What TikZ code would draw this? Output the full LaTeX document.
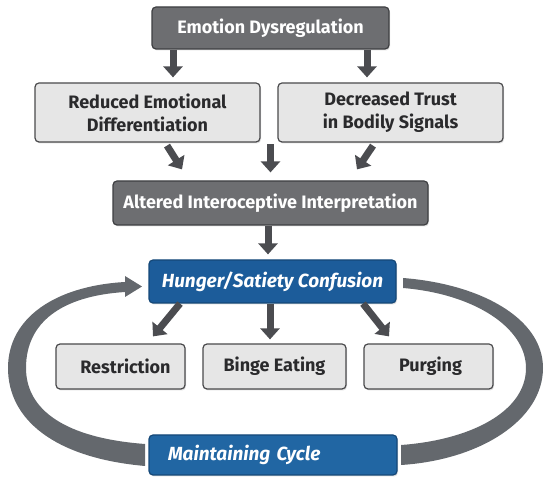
\documentclass[tikz,border=0pt]{standalone}
\usepackage{fontspec}
\setmainfont{Fira Sans}
\usetikzlibrary{arrows.meta,shadows}
\definecolor{boxdark}{HTML}{6D6E71}
\definecolor{boxdarkline}{HTML}{3E3F42}
\definecolor{boxlight}{HTML}{E6E6E6}
\definecolor{boxlightline}{HTML}{4A4A4C}
\definecolor{blueA}{HTML}{1C5C9A}
\definecolor{blueB}{HTML}{2166A3}
\definecolor{blueline}{HTML}{154878}
\definecolor{arrowcol}{HTML}{4B4C50}
\definecolor{bandcol}{HTML}{64686D}
\definecolor{txtdark}{HTML}{2A2A2C}
\tikzset{
  base/.style={rounded corners=4pt, line width=1.2pt, align=center, inner sep=0pt,
    font=\fontsize{18}{23}\selectfont\bfseries,
    drop shadow={shadow xshift=1pt, shadow yshift=-1.5pt, opacity=0.25}},
  darkbox/.style={base, fill=boxdark, draw=boxdarkline, text=white},
  lightbox/.style={base, fill=boxlight, draw=boxlightline, text=txtdark},
  bluebox/.style={base, fill=blueA, draw=blueline, text=white,
    font=\fontsize{19}{23}\selectfont\bfseries\itshape},
  arr/.style={draw=arrowcol, line width=7pt, -{Triangle[width=19pt,length=11pt]}},
}
\begin{document}
\begin{tikzpicture}[x=1pt,y=-1pt]
\path[use as bounding box] (0,0) rectangle (550,486);

% cycle bands
\fill[bandcol] (145,466) .. controls (55,458) and (8,420) .. (8,368)
  .. controls (8,318) and (55,286) .. (125,282) -- (125,276) -- (142,286.5)
  -- (125,297) -- (125,292) .. controls (62,296) and (26,322) .. (26,368)
  .. controls (26,410) and (65,438) .. (145,444) -- cycle;
\fill[bandcol] (403,278) .. controls (480,284) and (543,318) .. (543,368)
  .. controls (543,420) and (480,460) .. (401,465) -- (401,445)
  .. controls (470,440) and (526,412) .. (526,368)
  .. controls (526,328) and (475,294) .. (403,288) -- cycle;

% nodes
\node[darkbox, minimum width=237pt, minimum height=42pt] (emo) at (270.5,28) {Emotion Dysregulation};
\node[lightbox, minimum width=225pt, minimum height=59pt] (red) at (147.5,112.5) {Reduced Emotional\\Differentiation};
\node[lightbox, minimum width=225pt, minimum height=59pt] (dec) at (390.5,112.5) {Decreased Trust\\in Bodily Signals};
\node[darkbox, minimum width=315pt, minimum height=44pt] (alt) at (270.5,203) {Altered Interoceptive Interpretation};
\node[bluebox, minimum width=247pt, minimum height=43pt] (hun) at (272.5,281.5) {Hunger/Satiety Confusion};
\node[lightbox, minimum width=129pt, minimum height=45pt] (res) at (120.5,366.5) {\hspace*{10pt}Restriction};
\node[lightbox, minimum width=143pt, minimum height=45pt] (bin) at (274.5,366.5) {Binge Eating};
\node[lightbox, minimum width=129pt, minimum height=45pt] (pur) at (428.5,366.5) {\hspace*{4pt}Purging};
\node[bluebox, fill=blueB, minimum width=248pt, minimum height=40pt, text width=210pt, align=left] (mnt) at (273,455) {Maintaining Cycle};

% arrows
\draw[arr] ([xshift=-97.5pt]emo.south) -- ([xshift=25.5pt,yshift=5pt]red.north);
\draw[arr] ([xshift=96.5pt]emo.south) -- ([xshift=-23.5pt,yshift=5pt]dec.north);
\draw[arr] ([xshift=19.5pt,yshift=-3pt]red.south) -- ([xshift=-88.5pt,yshift=11pt]alt.north);
\draw[arr] ([yshift=36pt]alt.north) -- ([yshift=8pt]alt.north);
\draw[arr] ([xshift=-17.5pt,yshift=-3pt]dec.south) -- ([xshift=86.5pt,yshift=11pt]alt.north);
\draw[arr] ([xshift=-2.5pt]alt.south) -- ([xshift=-4.5pt,yshift=5pt]hun.north);
\draw[arr] ([xshift=-92.5pt]hun.south) -- ([xshift=32.5pt,yshift=7pt]res.north);
\draw[arr] ([xshift=-2.5pt]hun.south) -- ([xshift=-4.5pt,yshift=4pt]bin.north);
\draw[arr] ([xshift=90.5pt]hun.south) -- ([xshift=-39.5pt,yshift=7pt]pur.north);
\end{tikzpicture}
\end{document}
